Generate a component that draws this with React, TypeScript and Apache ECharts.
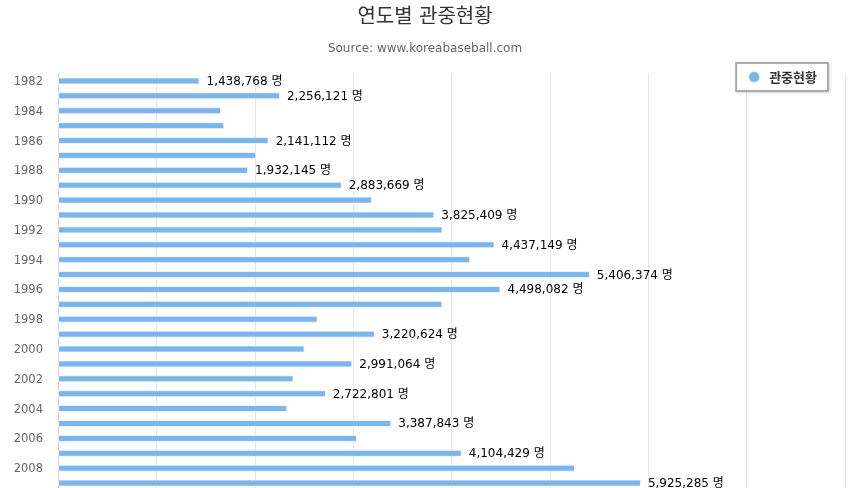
import React, { useEffect, useRef } from "react";
import * as echarts from "echarts";

const years = [
  "1982", "1983", "1984", "1985", "1986", "1987", "1988", "1989", "1990", "1991",
  "1992", "1993", "1994", "1995", "1996", "1997", "1998", "1999", "2000", "2001",
  "2002", "2003", "2004", "2005", "2006", "2007", "2008", "2009",
];
const attendance = [
  1438768, 2256121, 1657000, 1690000, 2141112, 2016000, 1932145, 2883669, 3190000, 3825409,
  3909000, 4437149, 4190000, 5406374, 4498082, 3908000, 2639000, 3220624, 2507000, 2991064,
  2395000, 2722801, 2331000, 3387843, 3040000, 4104429, 5256000, 5925285,
];
const labeledYears = [
  "1982", "1983", "1986", "1988", "1989", "1991", "1993", "1995", "1996",
  "1999", "2001", "2003", "2005", "2007", "2009",
];
const titleText = "연도별 관중현황";
const subtitleText = "Source: www.koreabaseball.com";
const seriesName = "관중현황";

const FONT = "'DejaVu Sans', 'Noto Sans CJK KR', sans-serif";

export default function App() {
  const ref = useRef<HTMLDivElement>(null);
  useEffect(() => {
    if (!ref.current) return;
    const chart = echarts.init(ref.current, undefined, { renderer: "svg" });
    const data = attendance.map((v, i) => ({
      value: v,
      label: { show: labeledYears.includes(years[i]) },
    }));
    chart.setOption({
      animation: false,
      textStyle: { fontFamily: FONT },
      title: {
        text: titleText,
        subtext: subtitleText,
        left: "center",
        top: 1,
        itemGap: 16,
        textStyle: { fontFamily: FONT, fontSize: 20, fontWeight: "normal", color: "#333333" },
        subtextStyle: { fontFamily: FONT, fontSize: 12, color: "#666666" },
      },
      legend: {
        right: 22,
        top: 63,
        icon: "circle",
        itemWidth: 12,
        itemHeight: 12,
        itemGap: 6,
        padding: [7, 11, 7, 11],
        borderColor: "#aaaaaa",
        borderWidth: 2,
        backgroundColor: "#ffffff",
        shadowColor: "rgba(0,0,0,0.15)",
        shadowBlur: 3,
        shadowOffsetX: 1,
        shadowOffsetY: 1,
        textStyle: {
          fontFamily: FONT,
          fontSize: 13,
          fontWeight: "bold",
          color: "#333333",
          padding: [0, 0, 0, 4],
        },
        data: [seriesName],
      },
      grid: { left: 58, right: 5, top: 73.5, height: 417, outerBoundsMode: "none", containLabel: false },
      xAxis: {
        type: "value",
        min: 0,
        max: 8000000,
        interval: 1000000,
        axisLine: { show: false },
        axisTick: { show: false },
        axisLabel: { show: false },
        splitLine: { lineStyle: { color: "#e6e6e6" } },
      },
      yAxis: {
        type: "category",
        data: years,
        inverse: true,
        axisLine: { lineStyle: { color: "#ccd6eb", width: 1 } },
        axisTick: { alignWithLabel: true, interval: 1, length: 10, lineStyle: { color: "#ccd6eb" } },
        axisLabel: { interval: 1, margin: 15, fontSize: 11.5, color: "#666666", fontFamily: FONT },
      },
      series: [
        {
          name: seriesName,
          type: "bar",
          data,
          barWidth: 7,
          itemStyle: { color: "#7cb5ec", borderColor: "rgba(255,255,255,0.7)", borderWidth: 1 },
          label: {
            position: "right",
            distance: 7,
            fontSize: 12,
            color: "#000000",
            fontFamily: FONT,
            formatter: (p: any) => p.value.toLocaleString("en-US") + " 명",
          },
        },
      ],
    });
    return () => chart.dispose();
  }, []);
  return (
    <div style={{ position: "fixed", left: 0, top: 0, width: 850, height: 488, overflow: "hidden" }}>
      <div ref={ref} style={{ width: 850, height: 530 }} />
    </div>
  );
}
